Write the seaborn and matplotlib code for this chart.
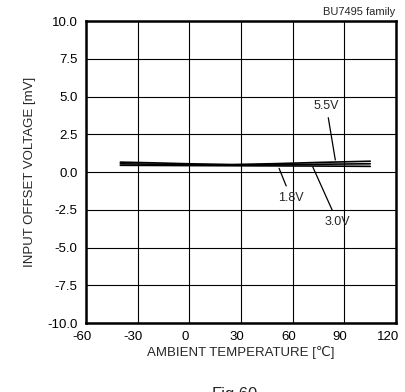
import pandas as pd
import matplotlib
matplotlib.use("Agg")
import matplotlib.pyplot as plt
import matplotlib.transforms as mtransforms
import seaborn as sns

# Ambient temperature [degC]
temps = [-40, -20, 0, 25, 50, 75, 105]

# Input offset voltage [mV] per supply voltage
v_1_8 = [0.45, 0.44, 0.43, 0.42, 0.41, 0.40, 0.38]
v_3_0 = [0.55, 0.52, 0.49, 0.47, 0.49, 0.52, 0.55]
v_5_5 = [0.66, 0.61, 0.55, 0.50, 0.56, 0.64, 0.72]

x_ticks = [-60, -30, 0, 30, 60, 90, 120]
y_ticks = [-10.0, -7.5, -5.0, -2.5, 0.0, 2.5, 5.0, 7.5, 10.0]

df = pd.DataFrame({
    "temp": temps * 3,
    "vos": v_1_8 + v_3_0 + v_5_5,
    "supply": ["1.8V"] * 7 + ["3.0V"] * 7 + ["5.5V"] * 7,
})

sns.set_style("white")
plt.rcParams["font.family"] = ["Liberation Sans", "DejaVu Sans"]
plt.rcParams["axes.unicode_minus"] = False

fig = plt.figure(figsize=(4.05, 3.92), dpi=100)
ax = fig.add_axes([0.212, 0.176, 0.766, 0.770])

sns.lineplot(data=df, x="temp", y="vos", units="supply", estimator=None,
             color="black", linewidth=1.2, ax=ax)

ax.set_xlim(-60, 120)
ax.set_ylim(-10, 10)
ax.set_xticks(x_ticks)
ax.set_yticks(y_ticks)
ax.set_yticklabels([f"{v:.1f}" for v in y_ticks])
ax.grid(True, color="black", linewidth=0.8)
ax.tick_params(length=0, labelsize=9.5, pad=6, colors="black")
for s in ax.spines.values():
    s.set_color("black")
    s.set_linewidth(1.8)

# x tick labels sit slightly left of their ticks, keeps "120" inside the figure
shift = mtransforms.ScaledTranslation(-3 / 72, 0, fig.dpi_scale_trans)
for lbl in ax.get_xticklabels():
    lbl.set_transform(lbl.get_transform() + shift)
last = ax.get_xticklabels()[-1]
last.set_transform(last.get_transform() + mtransforms.ScaledTranslation(-3 / 72, 0, fig.dpi_scale_trans))

ax.set_xlabel("AMBIENT TEMPERATURE [\u2103]", fontsize=9.5, labelpad=2)
ax.set_ylabel("INPUT OFFSET VOLTAGE [mV]", fontsize=9.5, labelpad=8)

# Leader labels
ax.annotate("5.5V", xy=(85, 0.62), xytext=(79.5, 4.4), ha="center", va="center",
            fontsize=9, arrowprops=dict(arrowstyle="-", color="black", lw=0.9))
ax.annotate("1.8V", xy=(51.5, 0.42), xytext=(59, -1.7), ha="center", va="center",
            fontsize=9, arrowprops=dict(arrowstyle="-", color="black", lw=0.9))
ax.annotate("3.0V", xy=(71, 0.51), xytext=(86, -3.3), ha="center", va="center",
            fontsize=9, arrowprops=dict(arrowstyle="-", color="black", lw=0.9))

fig.text(0.976, 0.97, "BU7495 family", ha="right", va="center", fontsize=8)
fig.text(0.58, 0.012, "Fig.60", ha="center", va="top", fontsize=12)

fig.savefig("out.png", dpi=100)
